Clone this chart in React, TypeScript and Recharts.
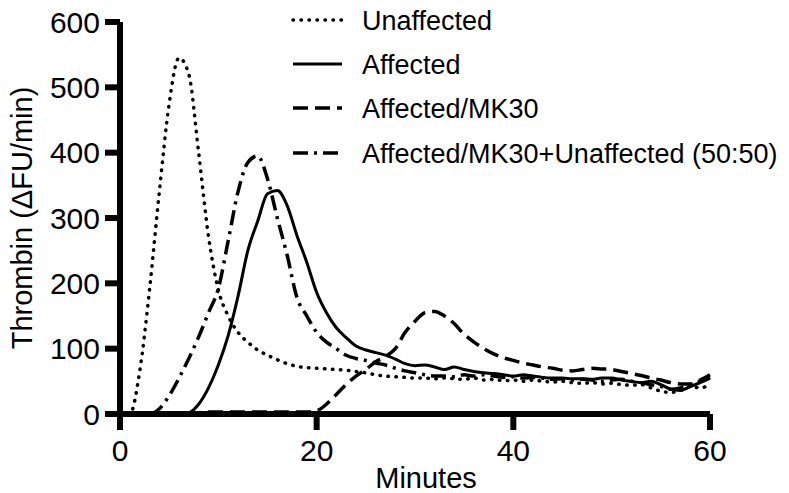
import React from 'react';
import { LineChart, Line, XAxis, YAxis, Legend } from 'recharts';

const minutes = Array.from({ length: 61 }, (_, i) => i);

const unaffected = [
  0, 0, 65, 190, 340, 475, 545, 520, 400, 272,
  190, 150, 125, 110, 98, 90, 83, 77, 73, 71,
  70, 69, 68, 67, 65, 63, 60, 58, 57, 56,
  55, 55, 54, 55, 54, 53, 55, 52, 53, 51,
  52, 50, 52, 50, 49, 50, 48, 47, 48, 46,
  47, 45, 44, 45, 40, 35, 33, 36, 42, 40,
  45,
];

const affected = [
  0, 0, 0, 0, 0, 0, 0, 2, 15, 40,
  75, 120, 180, 250, 295, 337, 342, 319, 273, 232,
  186, 155, 132, 117, 104, 98, 94, 90, 84, 77,
  74, 75, 72, 68, 72, 68, 65, 63, 62, 60,
  58, 60, 58, 56, 55, 55, 54, 54, 53, 55,
  55, 52, 50, 48, 50, 45, 38, 36, 42, 48,
  55,
];

const affectedMk30 = [
  0, 0, 0, 0, 0, 0, 2, 2, 2, 3,
  3, 3, 3, 3, 3, 3, 3, 3, 3, 3,
  5, 15, 30, 45, 58, 68, 80, 88, 100, 125,
  142, 155, 157, 150, 138, 122, 110, 100, 92, 86,
  82, 78, 75, 72, 70, 67, 66, 68, 70, 69,
  68, 65, 62, 59, 55, 52, 48, 46, 46, 52,
  60,
];

const mixed5050 = [
  0, 0, 0, 0, 8, 28, 55, 85, 118, 155,
  192, 265, 340, 385, 395, 360, 300, 243, 178, 150,
  125, 110, 100, 90, 85, 82, 78, 75, 70, 66,
  63, 60, 58, 58, 57, 60, 58, 60, 58, 56,
  57, 55, 56, 55, 53, 54, 52, 53, 52, 50,
  52, 53, 50, 48, 45, 42, 38, 40, 45, 50,
  56,
];

const xTicks = [0, 20, 40, 60];
const yTicks = [0, 100, 200, 300, 400, 500, 600];

const series = [
  { key: 'unaffected', name: 'Unaffected', dash: '0.5 7.5', width: 3.5, cap: 'round' as const },
  { key: 'affected', name: 'Affected', dash: undefined, width: 3, cap: 'butt' as const },
  { key: 'affectedMk30', name: 'Affected/MK30', dash: '15 7', width: 3.5, cap: 'butt' as const },
  { key: 'mixed5050', name: 'Affected/MK30+Unaffected (50:50)', dash: '15 6 3 6', width: 3.5, cap: 'butt' as const },
];

const data = minutes.map((m, i) => ({
  minute: m,
  unaffected: unaffected[i],
  affected: affected[i],
  affectedMk30: affectedMk30[i],
  mixed5050: mixed5050[i],
}));

const FONT = '"Liberation Sans", Arial, Helvetica, sans-serif';
const legendRows = [20, 64, 108, 153];

// thick axis strokes like the original figure
const axisCss = `
  .thrombin .recharts-cartesian-axis-line { stroke-width: 6px !important; stroke: #000; }
  .thrombin .recharts-cartesian-axis-tick-line { stroke-width: 6px !important; stroke: #000; }
`;

const renderLegend = () => (
  <svg width={789} height={175} style={{ display: 'block' }}>
    {series.map((s, i) => (
      <g key={s.key}>
        <line
          x1={293}
          x2={342}
          y1={legendRows[i]}
          y2={legendRows[i]}
          stroke="#000"
          strokeWidth={s.width}
          strokeDasharray={s.dash}
          strokeLinecap={s.cap}
        />
        <text x={362} y={legendRows[i] + 10} fontSize={27} fontFamily={FONT} fill="#000">
          {s.name}
        </text>
      </g>
    ))}
  </svg>
);

const YTitle = (props: any) => {
  const vb = props.viewBox || {};
  const cx = 22;
  const cy = vb.y + vb.height / 2;
  return (
    <text
      x={cx}
      y={cy}
      transform={`rotate(-90, ${cx}, ${cy})`}
      textAnchor="middle"
      dominantBaseline="central"
      fontSize={29}
      fontFamily={FONT}
      fill="#000"
    >
      Thrombin (ΔFU/min)
    </text>
  );
};

const XTitle = (props: any) => {
  const vb = props.viewBox || {};
  return (
    <text
      x={vb.x + vb.width / 2 + 11}
      y={vb.y + 74}
      textAnchor="middle"
      fontSize={29}
      fontFamily={FONT}
      fill="#000"
    >
      Minutes
    </text>
  );
};

export default function App() {
  return (
    <div className="thrombin" style={{ position: 'absolute', left: 0, top: 0, background: '#fff' }}>
      <style>{axisCss}</style>
      <LineChart
        width={789}
        height={493}
        data={data}
        margin={{ top: 22, right: 79, bottom: 0, left: 0 }}
      >
        <XAxis
          dataKey="minute"
          type="number"
          domain={[0, 60]}
          ticks={xTicks}
          height={79}
          stroke="#000"
          axisLine={{ stroke: '#000', strokeWidth: 6 }}
          tickLine={{ stroke: '#000', strokeWidth: 6 }}
          tickSize={16}
          tickMargin={10}
          tick={{ fill: '#000', fontSize: 30, fontFamily: FONT }}
          label={<XTitle />}
        />
        <YAxis
          type="number"
          domain={[0, 600]}
          ticks={yTicks}
          width={120}
          stroke="#000"
          axisLine={{ stroke: '#000', strokeWidth: 6 }}
          tickLine={{ stroke: '#000', strokeWidth: 6 }}
          tickSize={15}
          tickMargin={5}
          tick={{ fill: '#000', fontSize: 30, fontFamily: FONT }}
          label={<YTitle />}
        />
        <Legend
          layout="horizontal"
          verticalAlign="middle"
          align="center"
          content={renderLegend}
          wrapperStyle={{ left: 0, top: 0, width: 789, height: 175 }}
        />
        {series.map((s) => (
          <Line
            key={s.key}
            dataKey={s.key}
            name={s.name}
            type="monotone"
            stroke="#000"
            strokeWidth={s.width}
            strokeDasharray={s.dash}
            strokeLinecap={s.cap}
            dot={false}
            activeDot={false}
            isAnimationActive={false}
          />
        ))}
      </LineChart>
    </div>
  );
}
